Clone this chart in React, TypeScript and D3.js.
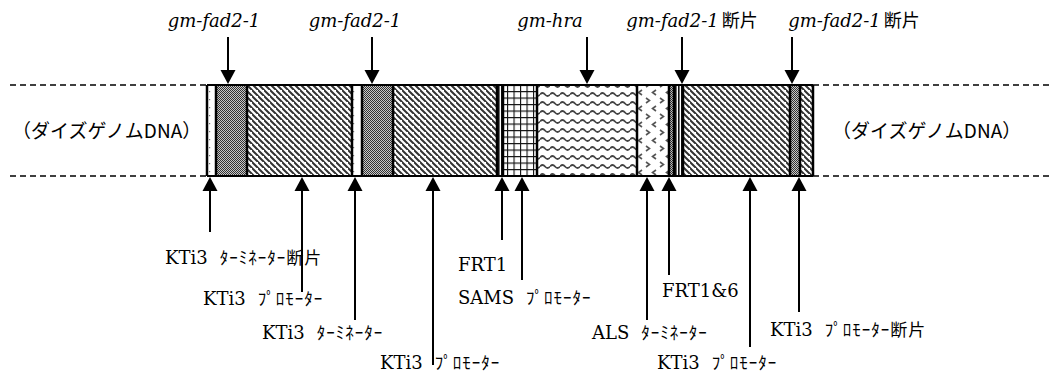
import React from "react";
import * as d3 from "d3";

// Construct elements (positions in sequence units along the insert)
const segNames = [
  "KTi3 terminator fragment", "gm-fad2-1", "KTi3 promoter", "KTi3 terminator", "gm-fad2-1",
  "KTi3 promoter", "FRT1", "SAMS promoter", "gm-hra", "ALS terminator",
  "gm-fad2-1 fragment", "FRT1&6", "KTi3 promoter", "gm-fad2-1 fragment", "KTi3 promoter fragment",
];
const segEdges = [0, 9, 40, 145, 155, 186, 290, 296, 330, 430, 462, 467, 476, 583, 593, 606];
const segPatterns = [
  "dots", "dense", "hatch", "dots", "dense",
  "hatch", "vlines", "grid", "wave", "chev",
  "dense", "vlines", "hatch", "dense", "hatch",
];

// Top annotations (gene names)
const topLatin = ["gm-fad2-1", "gm-fad2-1", "gm-hra", "gm-fad2-1", "gm-fad2-1"];
const topSuffix = ["", "", "", "断片", "断片"];
const topPos = [21, 165, 380, 475, 585];
const topLabelCx = [214, 355, 550, 692, 854];

// Bottom annotations
const botLatin = ["KTi3", "KTi3", "KTi3", "KTi3", "FRT1", "SAMS", "ALS", "FRT1&6", "KTi3", "KTi3"];
const botKana = ["ﾀｰﾐﾈｰﾀｰ断片", "ﾌﾟﾛﾓｰﾀｰ", "ﾀｰﾐﾈｰﾀｰ", "ﾌﾟﾛﾓｰﾀｰ", "", "ﾌﾟﾛﾓｰﾀｰ", "ﾀｰﾐﾈｰﾀｰ", "", "ﾌﾟﾛﾓｰﾀｰ", "ﾌﾟﾛﾓｰﾀｰ断片"];
const botPos = [3, 95, 148, 226, 295, 315, 440, 462, 543, 592];
const botLineEnd = [232, 292, 320, 365, 240, 280, 320, 275, 347, 312];
const botLabelX = [165, 203, 262, 380, 458, 458, 592, 662, 657, 770];
const botLabelY = [264, 305, 339, 369, 271, 304, 339, 297, 369, 336];

const flankText = "（ダイズゲノムDNA）";

const W = 1058, H = 374;
const barTop = 85, barBot = 176;
const SERIF = "'DejaVu Serif', 'Liberation Serif', serif";
const KANA = "'Noto Sans CJK JP', sans-serif";

export default function App() {
  const x = d3.scaleLinear().domain([0, 606]).range([207, 813]);
  const segs = segNames.map((n, i) => ({ n, x0: x(segEdges[i]), x1: x(segEdges[i + 1]), p: segPatterns[i] }));
  const headW = 7.5, headH = 14;

  return (
    <svg width={W} height={H} style={{ position: "absolute", left: 0, top: 0, background: "#fff" }}>
      <defs>
        <pattern id="dots" patternUnits="userSpaceOnUse" width="8" height="8">
          <rect width="8" height="8" fill="#fff" />
          <rect x="1" y="3" width="1.2" height="1.2" fill="#777" />
        </pattern>
        <pattern id="dense" patternUnits="userSpaceOnUse" width="2" height="2">
          <rect width="2" height="2" fill="#c8c8c8" />
          <rect x="0" y="0" width="1" height="1" fill="#333" />
          <rect x="1" y="1" width="1" height="1" fill="#333" />
        </pattern>
        <pattern id="hatch" patternUnits="userSpaceOnUse" width="6" height="6">
          <rect width="6" height="6" fill="#fff" />
          <path d="M-1,-1 L7,7 M-4,2 L2,8 M4,-4 L10,2" stroke="#333" strokeWidth="2" />
        </pattern>
        <pattern id="grid" patternUnits="userSpaceOnUse" width="6.5" height="6.5">
          <rect width="6.5" height="6.5" fill="#fff" />
          <path d="M0,0 H6.5 M0,0 V6.5" stroke="#111" strokeWidth="2.2" />
        </pattern>
        <pattern id="wave" patternUnits="userSpaceOnUse" width="10" height="9">
          <rect width="10" height="9" fill="#fff" />
          <path d="M0,4.5 Q2.5,1.5 5,4.5 T10,4.5" fill="none" stroke="#444" strokeWidth="1.8" />
        </pattern>
        <pattern id="chev" patternUnits="userSpaceOnUse" width="14" height="16">
          <rect width="14" height="16" fill="#fff" />
          <path d="M2,2 L5.5,4.5 L2,7" fill="none" stroke="#555" strokeWidth="1.6" />
          <path d="M12,10 L8.5,12.5 L12,15" fill="none" stroke="#555" strokeWidth="1.6" />
        </pattern>
        <pattern id="vlines" patternUnits="userSpaceOnUse" width="3" height="4">
          <rect width="3" height="4" fill="#fff" />
          <rect x="0" width="1.6" height="4" fill="#111" />
        </pattern>
      </defs>

      {/* dashed flanking lines */}
      {[barTop, barBot].map((y) => (
        <g key={y}>
          <line x1={10} x2={x(0)} y1={y} y2={y} stroke="#000" strokeWidth={1.5} strokeDasharray="6,4" />
          <line x1={x(606)} x2={1050} y1={y} y2={y} stroke="#000" strokeWidth={1.5} strokeDasharray="6,4" />
        </g>
      ))}

      {/* segments */}
      {segs.map((s, i) => (
        <rect key={i} x={s.x0} y={barTop} width={s.x1 - s.x0} height={barBot - barTop} fill={`url(#${s.p})`} />
      ))}
      {segEdges.map((e, i) => (
        <line key={i} x1={x(e)} x2={x(e)} y1={barTop} y2={barBot} stroke="#000" strokeWidth={2.5} />
      ))}
      <line x1={x(0)} x2={x(606)} y1={barTop} y2={barTop} stroke="#000" strokeWidth={2} />
      <line x1={x(0)} x2={x(606)} y1={barBot} y2={barBot} stroke="#000" strokeWidth={2} />

      {/* flank text */}
      <text x={12} y={138} fontFamily={KANA} fontSize={19} fill="#000">{flankText}</text>
      <text x={832} y={138} fontFamily={KANA} fontSize={19} fill="#000">{flankText}</text>

      {/* top arrows */}
      {topPos.map((p, i) => {
        const cx = x(p);
        return (
          <g key={i}>
            <line x1={cx} x2={cx} y1={37} y2={72} stroke="#000" strokeWidth={2} />
            <path d={`M${cx - headW},${84 - headH} L${cx + headW},${84 - headH} L${cx},${84} Z`} fill="#000" />
            <text x={topLabelCx[i]} y={27} textAnchor="middle" fontSize={18} fill="#000">
              <tspan fontFamily={SERIF} fontStyle="italic">{topLatin[i]}</tspan>
              {topSuffix[i] && <tspan fontFamily={KANA} dx={3}>{topSuffix[i]}</tspan>}
            </text>
          </g>
        );
      })}

      {/* bottom arrows */}
      {botPos.map((p, i) => {
        const cx = x(p);
        return (
          <g key={i}>
            <line x1={cx} x2={cx} y1={188} y2={botLineEnd[i]} stroke="#000" strokeWidth={2} />
            <path d={`M${cx - headW},${177 + headH} L${cx + headW},${177 + headH} L${cx},${177} Z`} fill="#000" />
            <text x={botLabelX[i]} y={botLabelY[i]} fill="#000">
              <tspan fontFamily={SERIF} fontSize={18}>{botLatin[i]}</tspan>
              {botKana[i] && (
                <tspan fontFamily={KANA} fontSize={17} dx={12} letterSpacing={1}>{botKana[i]}</tspan>
              )}
            </text>
          </g>
        );
      })}
    </svg>
  );
}
